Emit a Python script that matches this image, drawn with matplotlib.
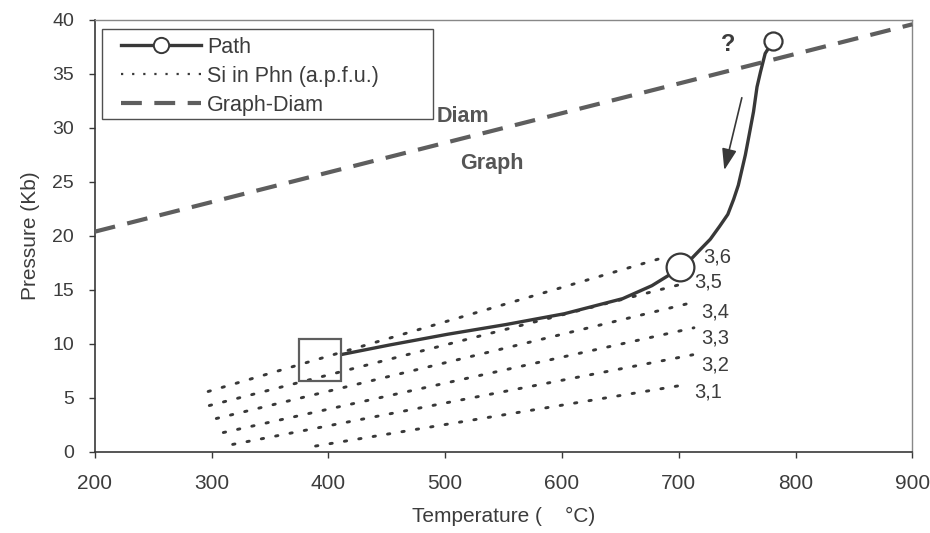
import matplotlib
matplotlib.use("Agg")
import matplotlib.pyplot as plt
from matplotlib.lines import Line2D
from matplotlib.patches import Rectangle

plt.rcParams["font.family"] = ["Liberation Sans", "DejaVu Sans"]

# --- data ---
path_T = [410, 452, 502, 552, 602, 652, 677, 692, 701, 710, 718, 727, 735, 742, 747, 751, 754, 757, 760, 764, 767, 770, 774, 781]
path_P = [9.0, 9.9, 10.9, 11.8, 12.8, 14.2, 15.4, 16.4, 17.1, 17.8, 18.7, 19.7, 20.9, 22.0, 23.4, 24.7, 26.1, 27.5, 29.2, 31.5, 33.8, 35.2, 36.9, 38.1]
start_T, start_P = 393, 8.5
mid_T, mid_P = 701, 17.1
peak_T, peak_P = 781, 38.1

gd_T = [200, 900]
gd_P = [20.4, 39.6]

si_labels = ["3,6", "3,5", "3,4", "3,3", "3,2", "3,1"]
si_T0 = [297, 298, 304, 310, 318, 389]
si_P0 = [5.6, 4.3, 3.1, 1.8, 0.7, 0.55]
si_T1 = [690, 701, 714, 713, 712, 704]
si_P1 = [18.1, 15.5, 13.9, 11.5, 9.0, 6.2]
si_lab_T = [721, 713, 719, 719, 719, 713]
si_lab_P = [18.1, 15.7, 13.0, 10.6, 8.1, 5.6]

xticks = [200, 300, 400, 500, 600, 700, 800, 900]
yticks = [0, 5, 10, 15, 20, 25, 30, 35, 40]

dark = "#383838"
grey = "#5e5e5e"
txt = "#3c3c3c"

fig = plt.figure(figsize=(9.3, 5.33), dpi=100)
ax = fig.add_axes([0.102, 0.152, 0.879, 0.8105])

# Si isopleths
for t0, p0, t1, p1 in zip(si_T0, si_P0, si_T1, si_P1):
    ax.plot([t0, t1], [p0, p1], color=dark, lw=2.1, linestyle=(0, (0.8, 4.2)),
            dash_capstyle="round", zorder=2)
for lab, t, p in zip(si_labels, si_lab_T, si_lab_P):
    ax.text(t, p, lab, fontsize=14.5, color=txt, va="center", ha="left")

# Graph-Diam reaction
ax.plot(gd_T, gd_P, color=grey, lw=3, linestyle=(0, (5, 3)), zorder=3, clip_on=False)

# Path
ax.plot(path_T, path_P, color=dark, lw=2.4, zorder=4, solid_capstyle="butt")
ax.plot([start_T], [start_P], marker="s", ms=30, mfc="none", mec=grey, mew=1.6, zorder=5)
ax.plot([mid_T], [mid_P], marker="o", ms=20, mfc="white", mec=dark, mew=1.6, zorder=5)
ax.plot([peak_T], [peak_P], marker="o", ms=13, mfc="white", mec=dark, mew=1.6, zorder=5)

# arrow
ax.annotate("", xy=(739, 26.1), xytext=(754, 32.8),
            arrowprops=dict(arrowstyle="-|>,head_length=1.3,head_width=0.45",
                            color=dark, lw=1.2, shrinkA=0, shrinkB=0))

ax.text(742, 37.7, "?", fontsize=17, fontweight="bold", color=txt, ha="center", va="center")
ax.text(493, 31.1, "Diam", fontsize=15.5, fontweight="bold", color="#555555", ha="left", va="center")
ax.text(540, 26.7, "Graph", fontsize=15.5, fontweight="bold", color="#555555", ha="center", va="center")

ax.set_xlim(200, 900)
ax.set_ylim(0, 40)
ax.set_xticks(xticks)
ax.set_yticks(yticks)
ax.tick_params(axis="both", direction="out", length=4, width=1, colors=dark,
               labelcolor=txt)
ax.tick_params(axis="x", pad=12, labelsize=15)
ax.tick_params(axis="y", pad=11, labelsize=14)
for s in ["left", "bottom"]:
    ax.spines[s].set_color(dark)
    ax.spines[s].set_linewidth(1.2)
for s in ["top", "right"]:
    ax.spines[s].set_color("#888888")
    ax.spines[s].set_linewidth(1.0)

ax.set_xlabel("Temperature (    \u00b0C)", fontsize=15, color=txt, labelpad=10)
ax.set_ylabel("Pressure (Kb)", fontsize=15, color=txt, labelpad=9)

# legend frame drawn as a box; entries placed inside it
ax.add_patch(Rectangle((0.1097, 0.7767), 0.3559, 0.1689, transform=fig.transFigure,
                       fill=True, facecolor="white", edgecolor="#505050", lw=1.0,
                       zorder=6, clip_on=False))
handles = [
    Line2D([], [], color=dark, lw=2.4, marker="o", ms=11, mfc="white", mec=dark, mew=1.4),
    Line2D([], [], color=dark, lw=1.6, linestyle=(0, (1, 4))),
    Line2D([], [], color=grey, lw=3, linestyle=(0, (5, 3))),
]
leg = ax.legend(handles, ["Path", "Si in Phn (a.p.f.u.)", "Graph-Diam"],
                loc="upper left", bbox_to_anchor=(0.1301, 0.9306),
                bbox_transform=fig.transFigure, fontsize=15.5, frameon=False,
                handlelength=3.7, borderpad=0, labelspacing=0.37,
                handletextpad=0.3, borderaxespad=0)
leg.set_zorder(7)
for t in leg.get_texts():
    t.set_color(txt)

fig.savefig("out.png", dpi=100, facecolor="white")
